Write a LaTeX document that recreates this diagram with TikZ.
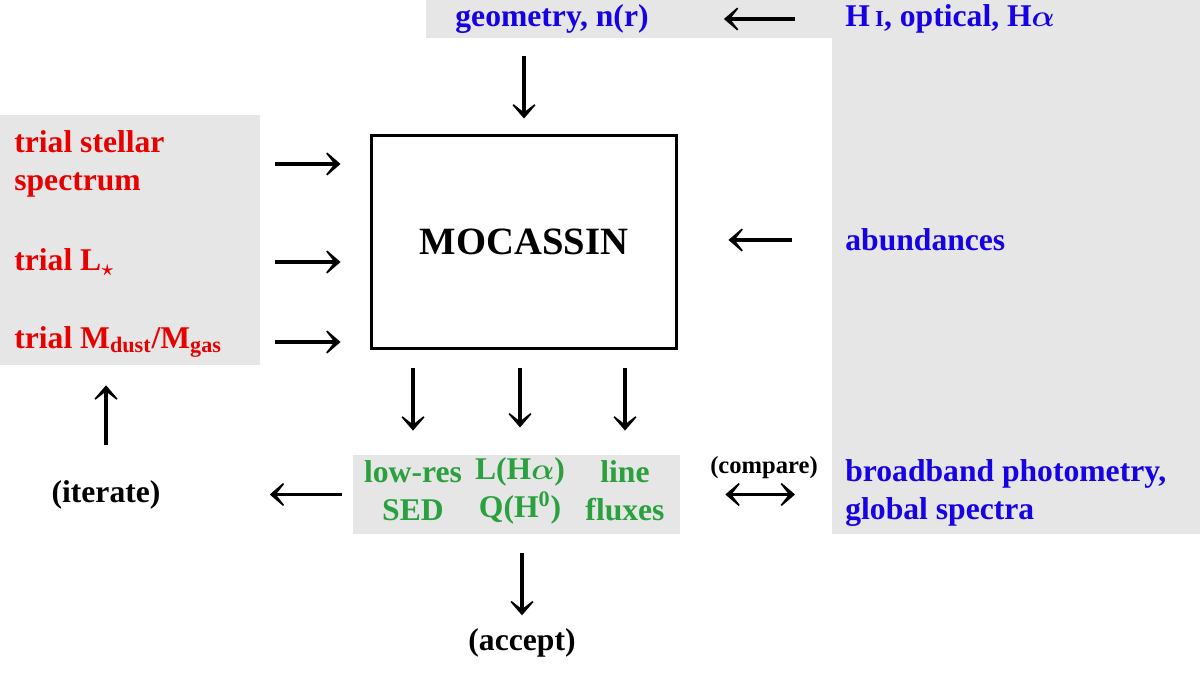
\documentclass[tikz,border=0pt]{standalone}
\usepackage{fontspec}
\setmainfont{Liberation Serif}
\usepackage{amsmath}
\usetikzlibrary{positioning, arrows.meta}
\definecolor{trialred}{RGB}{230,0,0}
\definecolor{obsblue}{RGB}{22,0,228}
\definecolor{outgreen}{RGB}{42,160,62}
\definecolor{bggrey}{RGB}{230,230,230}

\begin{document}
\begin{tikzpicture}[x=0.02cm, y=-0.02cm,
    txt/.style={inner sep=0pt, font=\fontsize{18}{21.5}\selectfont\bfseries\boldmath},
    arr/.style={line width=1.8pt, -{Stealth[length=11pt, width=19pt, inset=7.5pt]}},
    dbl/.style={line width=1.8pt, {Stealth[length=11pt, width=19pt, inset=7.5pt]}-{Stealth[length=11pt, width=19pt, inset=7.5pt]}}]
    \useasboundingbox (0,0) rectangle (1200,688);

    % grey backgrounds
    \fill[bggrey] (426,0) -- (1200,0) -- (1200,534) -- (832,534) -- (832,38) -- (426,38) -- cycle;
    \node[fill=bggrey, inner sep=0pt, minimum width=5.2cm, minimum height=5cm] (lbox) at (130,240) {};
    \node[fill=bggrey, inner sep=0pt, minimum width=6.54cm, minimum height=1.58cm] (outbox) at (516.5,494.5) {};

    % code
    \node[draw, line width=1.7pt, minimum width=6.12cm, minimum height=4.28cm,
          font=\fontsize{22}{26}\selectfont\bfseries] (moc) at (524,242) {MOCASSIN};

    % inputs
    \node[txt, text=obsblue] (geo) at (552,19) {geometry, n(r)};
    \node[txt, text=obsblue, anchor=west] (hi) at (845,19) {H\,{\fontsize{13}{15}\selectfont I}, optical, H$\alpha$};
    \node[txt, text=obsblue, anchor=west] (ab) at (845,240) {abundances};
    \node[txt, text=trialred, anchor=west, align=left] (sp) at (14,164) {trial stellar\\spectrum};
    \node[txt, text=trialred, anchor=west] (ls) at (14,262) {trial L$_{\boldsymbol\star}$};
    \node[txt, text=trialred, anchor=west] (md) at (14,342) {trial M\textsubscript{dust}/M\textsubscript{gas}};

    % outputs
    \node[txt, text=outgreen, align=center] (sed) at (413,491) {low-res\\SED};
    \node[txt, text=outgreen, align=center] (lha) at (520,491) {L(H$\alpha$)\\Q(H\textsuperscript{0})};
    \node[txt, text=outgreen, align=center] (lf) at (625,491) {line\\fluxes};
    \node[txt, text=obsblue, anchor=west, align=left] (bb) at (845,493) {broadband photometry,\\global spectra};

    \node[txt] (it) at (106,495) {(iterate)};
    \node[txt, font=\fontsize{14}{16}\selectfont\bfseries] (cmp) at (764,468) {(compare)};
    \node[txt] (ac) at (522,643) {(accept)};

    \draw[arr, shorten <=1cm, shorten >=1.5cm] (hi.west) -- (geo.east);
    \draw[arr, shorten <=0.45cm, shorten >=0.3cm] (moc.north |- geo.south) -- (moc.north);
    \draw[arr, shorten <=1.06cm, shorten >=1cm] (ab.west) -- (moc.east |- ab.west);
    \foreach \t in {sp, ls, md}
        \draw[arr, shorten <=0.3cm, shorten >=0.58cm] (lbox.east |- \t.west) -- (moc.west |- \t.west);
    \foreach \o in {sed, lha, lf}
        \draw[arr, shorten <=0.36cm, shorten >=0.6cm] (\o.north |- moc.south) -- (\o.north);
    \draw[arr, shorten <=0.22cm, shorten >=2.18cm] (outbox.west) -- (it.east |- outbox.west);
    \draw[arr, shorten <=0.7cm, shorten >=0.4cm] (it.north) -- (lbox.south -| it.north);
    \draw[dbl, shorten <=0.9cm, shorten >=1cm] (outbox.east) -- (outbox.east -| bb.west);
    \draw[arr, shorten <=0.38cm, shorten >=0.26cm] (ac.north |- outbox.south) -- (ac.north);
\end{tikzpicture}
\end{document}
